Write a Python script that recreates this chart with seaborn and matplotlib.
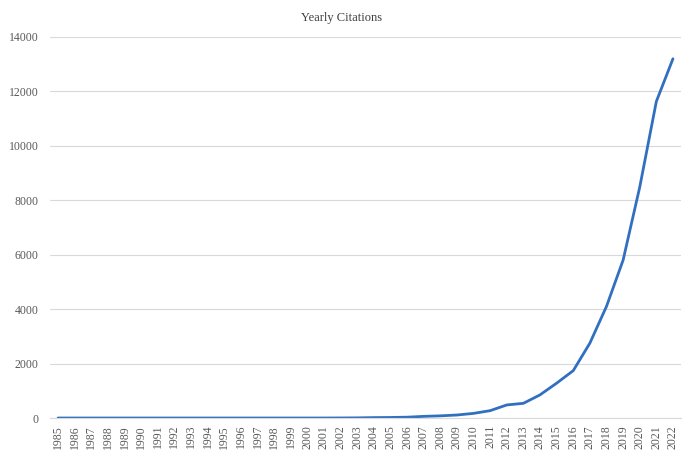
import matplotlib
matplotlib.use('Agg')
import matplotlib.pyplot as plt
import seaborn as sns
import pandas as pd

# Citas por año
years = list(range(1985, 2023))
citations = [0, 0, 0, 0, 0, 0, 0, 0, 0, 0,
             0, 0, 0, 0, 0, 0, 0, 2, 5, 15,
             20, 30, 60, 80, 110, 170, 270, 480, 540, 850,
             1280, 1740, 2750, 4100, 5800, 8480, 11630, 13200]

df = pd.DataFrame({'Year': years, 'Citations': citations})

sns.set_theme(style='white')
plt.rcParams['font.family'] = ['Liberation Serif', 'DejaVu Serif']

fig = plt.figure(figsize=(6.84, 4.55), dpi=100)
ax = fig.add_axes([0.0727, 0.0813, 0.9233, 0.8374])

sns.lineplot(data=df, x='Year', y='Citations', ax=ax, color='#3170C0', linewidth=2.0)

ax.set_xlim(1984.5, 2022.5)
ax.set_ylim(0, 14000)
ax.set_xticks(years)
ax.set_xticklabels([str(y) for y in years], rotation=90)
ax.set_yticks(range(0, 14001, 2000))
ax.tick_params(axis='x', length=0, labelsize=8.5, colors='#595959', pad=5)
ax.tick_params(axis='y', length=0, labelsize=8.5, colors='#595959', pad=8)
ax.yaxis.grid(True, color='#D9D9D9', linewidth=0.8)
ax.set_axisbelow(True)
for s in ['top', 'right', 'left']:
    ax.spines[s].set_visible(False)
ax.spines['bottom'].set_color('#D9D9D9')
ax.spines['bottom'].set_linewidth(0.8)
ax.set_xlabel('')
ax.set_ylabel('')

fig.text(0.5, 0.96, 'Yearly Citations', ha='center', va='center', fontsize=9, color='#404040')

fig.savefig('out.png', dpi=100)
